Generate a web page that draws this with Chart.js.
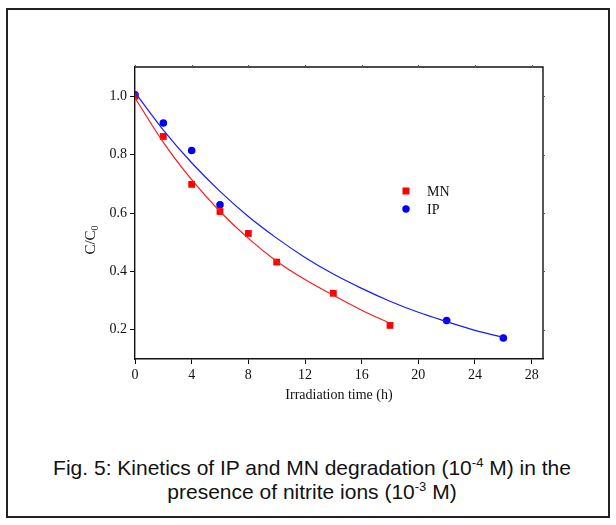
<!DOCTYPE html>
<html>
<head>
<meta charset="utf-8">
<title>Fig. 5 - Kinetics of IP and MN degradation</title>
<script src="https://cdn.jsdelivr.net/npm/chart.js@4.4.1/dist/chart.umd.min.js"></script>
<style>
    html, body { margin: 0; padding: 0; background: #fff; }
    body { width: 616px; height: 525px; position: relative; overflow: hidden; }
    #frame {
        position: absolute; left: 6px; top: 8px; width: 604px; height: 510px;
        border: 2px solid #222; box-sizing: border-box;
    }
    #chart-box { position: absolute; left: 0; top: 0; width: 616px; height: 420px; }
    #caption {
        position: absolute; left: 6px; top: 456px; width: 612px;
        text-align: center; font-family: "Liberation Sans", Arial, sans-serif;
        font-size: 21px; line-height: 24px; color: #111;
    }
    #caption sup { font-size: 13px; vertical-align: 8px; line-height: 0; }
</style>
</head>
<body>
<div id="frame"></div>
<div id="chart-box"><canvas id="kinetics-chart" width="616" height="420"></canvas></div>
<div id="caption">Fig. 5: Kinetics of IP and MN degradation (10<sup>-4</sup> M) in the<br>presence of nitrite ions (10<sup>-3</sup> M)</div>

<script>
const mnTime = [0, 2, 4, 6, 8, 10, 14, 18];
const mnValues = [1.0, 0.862, 0.698, 0.605, 0.530, 0.432, 0.325, 0.215];
const ipTime = [0, 2, 4, 6, 22, 26];
const ipValues = [1.005, 0.908, 0.814, 0.628, 0.232, 0.172];

// Fitted curves
const mnFitTime = [0, 2, 4, 6, 8, 10, 12, 14, 16, 18];
const mnFitValues = [0.994, 0.842, 0.714, 0.605, 0.513, 0.435, 0.372, 0.318, 0.267, 0.222];
const ipFitTime = [0, 2, 4, 6, 8, 10, 12, 14, 16, 18, 20, 22, 24, 26];
const ipFitValues = [1.013, 0.884, 0.772, 0.674, 0.588, 0.514, 0.448, 0.391, 0.342, 0.298, 0.260, 0.228, 0.198, 0.174];

// Axis ticks
const xTicks = [0, 4, 8, 12, 16, 20, 24, 28];
const yTicks = [0.2, 0.4, 0.6, 0.8, 1.0];

const SERIF = '"Liberation Serif", "Times New Roman", serif';

function toPoints(xs, ys) {
    return xs.map((x, i) => ({ x: x, y: ys[i] }));
}

// Top/right frame of the plot, axis titles and the inside legend
const decorPlugin = {
    id: 'decor',
    afterDraw(chart) {
        const { ctx, chartArea: a, scales } = chart;
        ctx.save();

        // top + right border with small ticks
        ctx.strokeStyle = '#111';
        ctx.lineWidth = 1.4;
        ctx.beginPath();
        ctx.moveTo(a.left, a.top);
        ctx.lineTo(a.right, a.top);
        ctx.lineTo(a.right, a.bottom);
        ctx.stroke();
        ctx.lineWidth = 1;
        ctx.strokeStyle = '#555';
        ctx.beginPath();
        xTicks.forEach(v => {
            const px = Math.round(scales.x.getPixelForValue(v)) + 0.5;
            ctx.moveTo(px, a.top);
            ctx.lineTo(px, a.top - 2);
        });
        yTicks.forEach(v => {
            const py = Math.round(scales.y.getPixelForValue(v)) + 0.5;
            ctx.moveTo(a.right, py);
            ctx.lineTo(a.right + 2, py);
        });
        ctx.stroke();

        // x title
        ctx.fillStyle = '#111';
        ctx.font = '14px ' + SERIF;
        ctx.textAlign = 'center';
        ctx.textBaseline = 'middle';
        ctx.fillText('Irradiation time (h)', (a.left + a.right) / 2, 395);

        // y title  C/C0 (rotated)
        ctx.save();
        ctx.translate(90, 240);
        ctx.rotate(-Math.PI / 2);
        ctx.textAlign = 'left';
        ctx.textBaseline = 'alphabetic';
        ctx.font = '15px ' + SERIF;
        const main = 'C/C';
        const w = ctx.measureText(main).width;
        ctx.font = '10px ' + SERIF;
        const ws = ctx.measureText('0').width;
        const start = -(w + ws) / 2;
        ctx.font = '15px ' + SERIF;
        ctx.fillText(main, start, 5);
        ctx.font = '10px ' + SERIF;
        ctx.fillText('0', start + w, 8);
        ctx.restore();

        // legend (inside plot)
        const items = chart.data.datasets.filter(d => d.showInLegend);
        items.forEach((d, i) => {
            const lx = 406, ly = 191 + i * 18;
            ctx.fillStyle = d.backgroundColor;
            if (d.pointStyle === 'rect') {
                ctx.fillRect(lx - 3.5, ly - 3.5, 7, 7);
            } else {
                ctx.beginPath();
                ctx.arc(lx, ly, 3.7, 0, Math.PI * 2);
                ctx.fill();
            }
            ctx.fillStyle = '#111';
            ctx.font = '14px ' + SERIF;
            ctx.textAlign = 'left';
            ctx.textBaseline = 'middle';
            ctx.fillText(d.label, 427, ly + 1);
        });

        ctx.restore();
    }
};

function initKineticsChart() {
    const ctx = document.getElementById('kinetics-chart');

    new Chart(ctx, {
        type: 'line',
        data: {
            datasets: [
                {
                    label: 'MN fit',
                    data: toPoints(mnFitTime, mnFitValues),
                    borderColor: '#ff1a1a',
                    borderWidth: 1.2,
                    pointRadius: 0,
                    cubicInterpolationMode: 'monotone',
                    fill: false
                },
                {
                    label: 'IP fit',
                    data: toPoints(ipFitTime, ipFitValues),
                    borderColor: '#1a1aff',
                    borderWidth: 1.2,
                    pointRadius: 0,
                    cubicInterpolationMode: 'monotone',
                    fill: false
                },
                {
                    label: 'MN',
                    showInLegend: true,
                    data: toPoints(mnTime, mnValues),
                    showLine: false,
                    pointStyle: 'rect',
                    pointRadius: 4.8,
                    backgroundColor: '#ff0000',
                    borderColor: '#ff0000',
                    borderWidth: 0
                },
                {
                    label: 'IP',
                    showInLegend: true,
                    data: toPoints(ipTime, ipValues),
                    showLine: false,
                    pointStyle: 'circle',
                    pointRadius: 3.8,
                    backgroundColor: '#0000ff',
                    borderColor: '#0000ff',
                    borderWidth: 0
                }
            ]
        },
        options: {
            responsive: false,
            animation: false,
            layout: { padding: { left: 0, top: 67, right: 73, bottom: 0 } },
            plugins: {
                legend: { display: false },
                tooltip: { enabled: false }
            },
            scales: {
                x: {
                    type: 'linear',
                    min: 0,
                    max: 28.8,
                    afterBuildTicks: s => { s.ticks = xTicks.map(v => ({ value: v })); },
                    afterFit: s => { s.height = 61; },
                    grid: { drawOnChartArea: false, drawTicks: true, tickLength: 5, color: '#111' },
                    border: { display: true, color: '#111', width: 1.4 },
                    ticks: {
                        color: '#111',
                        padding: 3,
                        maxRotation: 0,
                        font: { family: SERIF, size: 14 }
                    }
                },
                y: {
                    type: 'linear',
                    min: 0.1,
                    max: 1.1,
                    afterBuildTicks: s => { s.ticks = yTicks.map(v => ({ value: v })); },
                    afterFit: s => { s.width = 135; },
                    grid: { drawOnChartArea: false, drawTicks: true, tickLength: 5, color: '#111' },
                    border: { display: true, color: '#111', width: 1.4 },
                    ticks: {
                        color: '#111',
                        padding: 3,
                        font: { family: SERIF, size: 14 },
                        callback: v => v.toFixed(1)
                    }
                }
            }
        },
        plugins: [decorPlugin]
    });
}

initKineticsChart();
</script>
</body>
</html>
